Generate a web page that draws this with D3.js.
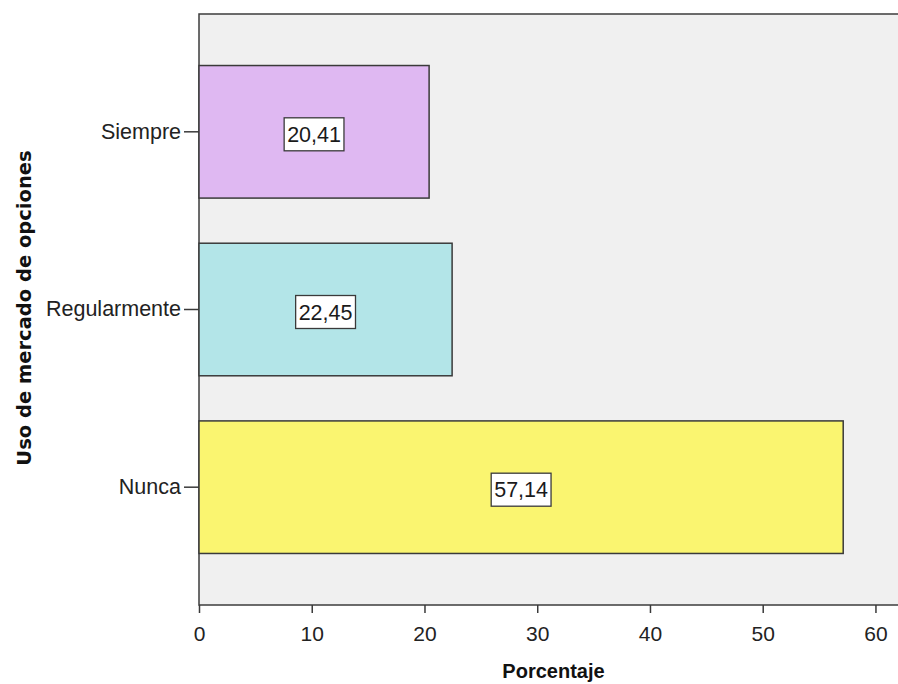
<!DOCTYPE html>
<html>
<head>
<meta charset="utf-8">
<script src="https://cdn.jsdelivr.net/npm/d3@7/dist/d3.min.js"></script>
<style>
  html, body { margin: 0; padding: 0; background: #ffffff; }
  svg { display: block; }
</style>
</head>
<body>
<svg id="chart" width="898" height="684"></svg>
<script>
// Uso de mercado de opciones — percentage of respondents per category
const categories = ["Siempre", "Regularmente", "Nunca"];
const values = [20.41, 22.45, 57.14];
const barColors = ["#dfb8f2", "#b3e5e8", "#faf570"];
const xTicks = [0, 10, 20, 30, 40, 50, 60];
const xTitle = "Porcentaje";
const yTitle = "Uso de mercado de opciones";

const svg = d3.select("#chart");
const plot = { left: 199, top: 14, right: 898, bottom: 605 };

const x = d3.scaleLinear().domain([0, 62]).range([plot.left, plot.right]);
const y = d3.scaleBand().domain(categories)
  .range([plot.top, plot.bottom])
  .paddingInner(0.254).paddingOuter(0.29);

const fmt = v => v.toFixed(2).replace(".", ",");

// plot background and frame
svg.append("rect")
  .attr("x", plot.left).attr("y", plot.top)
  .attr("width", plot.right - plot.left + 10).attr("height", plot.bottom - plot.top)
  .attr("fill", "#f0f0f0")
  .attr("stroke", "#3c3c3c").attr("stroke-width", 1.5);

// bars
const rows = categories.map((c, i) => ({ c, v: values[i], col: barColors[i] }));
svg.append("g").selectAll("rect").data(rows).join("rect")
  .attr("x", x(0))
  .attr("y", d => y(d.c))
  .attr("width", d => x(d.v) - x(0))
  .attr("height", y.bandwidth())
  .attr("fill", d => d.col)
  .attr("stroke", "#3a3a3a").attr("stroke-width", 1.5);

// value labels in white boxes
const lab = svg.append("g").selectAll("g").data(rows).join("g")
  .attr("transform", d => `translate(${(x(0) + x(d.v)) / 2},${y(d.c) + y.bandwidth() / 2 + 2.5})`);
lab.append("text")
  .attr("text-anchor", "middle").attr("dy", "0.36em")
  .attr("font-family", "Liberation Sans, Arial, sans-serif").attr("font-size", 21.5)
  .attr("fill", "#1a1a1a")
  .text(d => fmt(d.v))
  .each(function () {
    const b = this.getBBox();
    d3.select(this.parentNode).insert("rect", "text")
      .attr("x", b.x - 3).attr("y", -16.5)
      .attr("width", b.width + 6).attr("height", 33)
      .attr("fill", "#ffffff").attr("stroke", "#3a3a3a").attr("stroke-width", 1.3);
  });

// x axis
const xAxis = d3.axisBottom(x).tickValues(xTicks).tickSize(8).tickPadding(13).tickFormat(d3.format("d"));
const gx = svg.append("g").attr("transform", `translate(0,${plot.bottom})`).call(xAxis);
gx.select(".domain").remove();
gx.selectAll(".tick line").attr("stroke", "#3a3a3a").attr("stroke-width", 1.5);
gx.selectAll(".tick text")
  .attr("font-family", "Liberation Sans Narrow, Liberation Sans, Arial, sans-serif").attr("font-size", 21)
  .attr("fill", "#222");

// y axis
const yAxis = d3.axisLeft(y).tickSize(15).tickPadding(3);
const gy = svg.append("g").attr("transform", `translate(${plot.left},0)`).call(yAxis);
gy.select(".domain").remove();
gy.selectAll(".tick line").attr("stroke", "#3a3a3a").attr("stroke-width", 1.5);
gy.selectAll(".tick text")
  .attr("font-family", "Liberation Sans, Arial, sans-serif").attr("font-size", 21.5)
  .attr("fill", "#222");

// axis titles
svg.append("text")
  .attr("x", (plot.left + 898) / 2 + 5).attr("y", 678)
  .attr("text-anchor", "middle")
  .attr("font-family", "Liberation Sans, Arial, sans-serif").attr("font-weight", "bold")
  .attr("font-size", 20).attr("fill", "#111")
  .text(xTitle);

svg.append("text")
  .attr("transform", `translate(31,308) rotate(-90)`)
  .attr("text-anchor", "middle")
  .attr("font-family", "DejaVu Sans, sans-serif").attr("font-weight", "bold")
  .attr("font-size", 19.5).attr("fill", "#111")
  .text(yTitle);
</script>
</body>
</html>
